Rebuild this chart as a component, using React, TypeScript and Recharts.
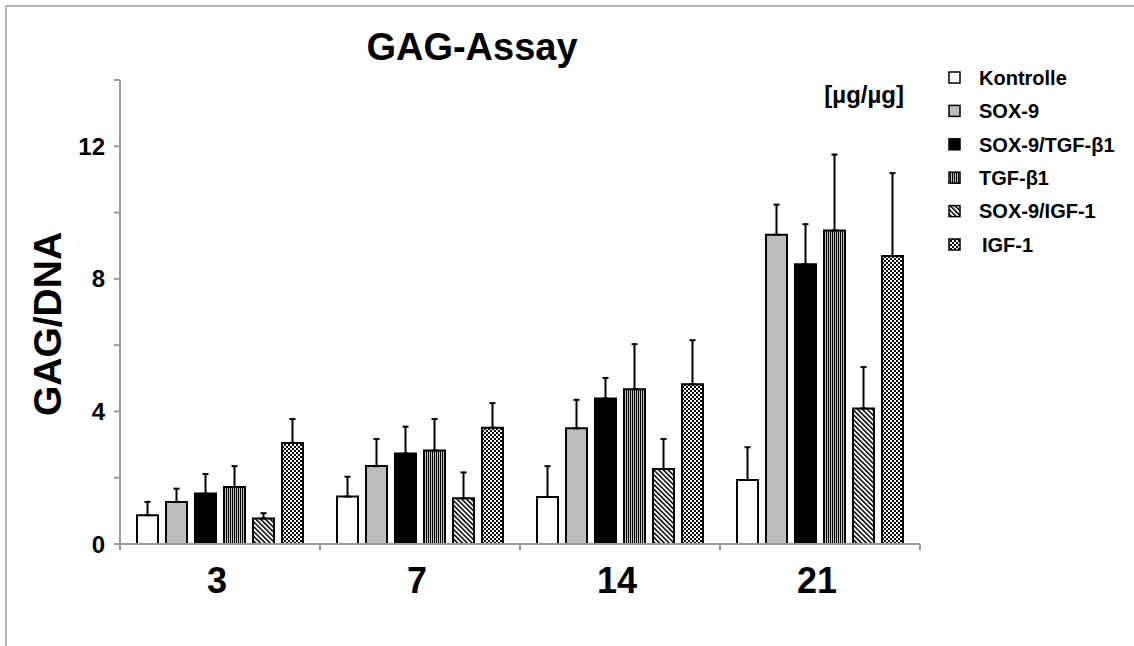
import React from 'react';
import { BarChart, Bar, XAxis, YAxis, ErrorBar, Legend } from 'recharts';

const days = ['3', '7', '14', '21'];
const seriesNames = ['Kontrolle', 'SOX-9', 'SOX-9/TGF-\u03b21', 'TGF-\u03b21', 'SOX-9/IGF-1', 'IGF-1'];

const kontrolle = [0.87, 1.43, 1.42, 1.93];
const kontrolleErr = [0.4, 0.6, 0.93, 0.99];
const sox9 = [1.27, 2.35, 3.49, 9.33];
const sox9Err = [0.4, 0.82, 0.86, 0.91];
const soxTgf = [1.52, 2.73, 4.39, 8.44];
const soxTgfErr = [0.59, 0.81, 0.62, 1.21];
const tgf = [1.72, 2.82, 4.67, 9.46];
const tgfErr = [0.63, 0.95, 1.36, 2.29];
const soxIgf = [0.77, 1.38, 2.26, 4.09];
const soxIgfErr = [0.16, 0.78, 0.91, 1.25];
const igf = [3.05, 3.51, 4.82, 8.69];
const igfErr = [0.72, 0.74, 1.33, 2.5];

const yTicks = [0, 2, 4, 6, 8, 10, 12, 14];
const yLabels = [0, 4, 8, 12];

const values = [kontrolle, sox9, soxTgf, tgf, soxIgf, igf];
const errors = [kontrolleErr, sox9Err, soxTgfErr, tgfErr, soxIgfErr, igfErr];
const fills = ['#ffffff', '#bdbdbd', '#000000', 'url(#pVert)', 'url(#pDiag)', 'url(#pCheck)'];

const data = days.map((d, i) => {
  const row: any = { day: d };
  values.forEach((v, s) => {
    row['s' + s] = v[i];
    row['e' + s] = [0, errors[s][i]];
  });
  return row;
});

const W = 1134;
const H = 646;
const Y_W = 60;
const X_H = 60;
// plot area: x 120..920, y 80..544
const M = { top: 80, right: 214, bottom: 102 - X_H, left: 120 - Y_W };
const HALF_BAND = (W - 120 - M.right) / days.length / 2;
const FONT = '"Liberation Sans", Arial, sans-serif';
const AXIS = '#9a9a9a';

const XTick = (props: any) => {
  const { x, y, payload, index } = props;
  const top = y - 8;
  return (
    <g>
      <line x1={x - HALF_BAND} x2={x - HALF_BAND} y1={top} y2={top + 6} stroke={AXIS} strokeWidth={2} />
      {index === days.length - 1 && (
        <line x1={x + HALF_BAND} x2={x + HALF_BAND} y1={top} y2={top + 6} stroke={AXIS} strokeWidth={2} />
      )}
      <text x={x - 3} y={top + 49} textAnchor="middle" fontFamily={FONT} fontWeight="bold" fontSize={36} fill="#000">
        {payload.value}
      </text>
    </g>
  );
};

const YTick = (props: any) => {
  const { x, y, payload } = props;
  if (!yLabels.includes(payload.value)) return <g />;
  return (
    <text x={x} y={y} dy="0.36em" textAnchor="end" fontFamily={FONT} fontWeight="bold" fontSize={24} fill="#000">
      {payload.value}
    </text>
  );
};

const LegendBox = () => (
  <svg width={180} height={215} style={{ display: 'block' }}>
    {seriesNames.map((n, i) => (
      <g key={n} transform={`translate(0, ${8 + i * 33.4})`}>
        <rect x={1} y={1} width={11} height={11} fill={fills[i]} stroke="#000" strokeWidth={1.5} />
        <text x={i === 5 ? 34 : 31} y={6.5} dy="0.36em" fontFamily={FONT} fontWeight="bold" fontSize={20} fill="#000">
          {n}
        </text>
      </g>
    ))}
  </svg>
);

export default function App() {
  return (
    <div style={{ position: 'absolute', left: 0, top: 0, width: W, height: H, background: '#fff', overflow: 'hidden' }}>
      <svg width={W} height={H} style={{ position: 'absolute', left: 0, top: 0 }}>
        <defs>
          <pattern id="pVert" patternUnits="userSpaceOnUse" width={2} height={4}>
            <rect width={2} height={4} fill="#c4c4c4" />
            <rect width={1} height={4} fill="#000" />
          </pattern>
          <pattern id="pDiag" patternUnits="userSpaceOnUse" width={3.4} height={4} patternTransform="rotate(-45)">
            <rect width={3.4} height={4} fill="#fff" />
            <rect width={1.5} height={4} fill="#000" />
          </pattern>
          <pattern id="pCheck" patternUnits="userSpaceOnUse" width={4} height={4}>
            <rect width={4} height={4} fill="#fff" />
            <rect width={2} height={2} fill="#000" />
            <rect x={2} y={2} width={2} height={2} fill="#000" />
          </pattern>
        </defs>
        <polyline points={`6,${H} 6,6 ${W},6`} fill="none" stroke="#b4b4b4" strokeWidth={2} />
        <text x={472} y={60} textAnchor="middle" fontFamily={FONT} fontWeight="bold" fontSize={38} fill="#000">
          GAG-Assay
        </text>
        <text x={904} y={103} textAnchor="end" fontFamily={FONT} fontWeight="bold" fontSize={24} fill="#000">
          [µg/µg]
        </text>
        <text
          x={47}
          y={324}
          dy="0.36em"
          textAnchor="middle"
          transform="rotate(-90 47 324)"
          fontFamily={FONT}
          fontWeight="bold"
          fontSize={39}
          fill="#000"
        >
          GAG/DNA
        </text>
      </svg>
      <div style={{ position: 'absolute', left: 0, top: 0 }}>
        <BarChart width={W} height={H} data={data} margin={M} barSize={21} barGap={8}>
          <XAxis
            dataKey="day"
            height={X_H}
            axisLine={{ stroke: AXIS, strokeWidth: 2 }}
            tickLine={false}
            tickSize={6}
            tickMargin={2}
            tick={<XTick />}
            interval={0}
          />
          <YAxis
            width={Y_W}
            domain={[0, 14]}
            ticks={yTicks}
            interval={0}
            axisLine={{ stroke: AXIS, strokeWidth: 2 }}
            tickLine={{ stroke: AXIS, strokeWidth: 2 }}
            tickSize={6}
            tickMargin={9}
            tick={<YTick />}
          />
          <Legend
            layout="horizontal"
            verticalAlign="middle"
            align="center"
            content={<LegendBox />}
            wrapperStyle={{ left: 948, top: 63, width: 180 }}
          />
          {seriesNames.map((n, s) => (
            <Bar key={n} dataKey={'s' + s} name={n} fill={fills[s]} stroke="#000" strokeWidth={2} isAnimationActive={false}>
              <ErrorBar dataKey={'e' + s} width={3} stroke="#000" strokeWidth={2} direction="y" />
            </Bar>
          ))}
        </BarChart>
      </div>
    </div>
  );
}
